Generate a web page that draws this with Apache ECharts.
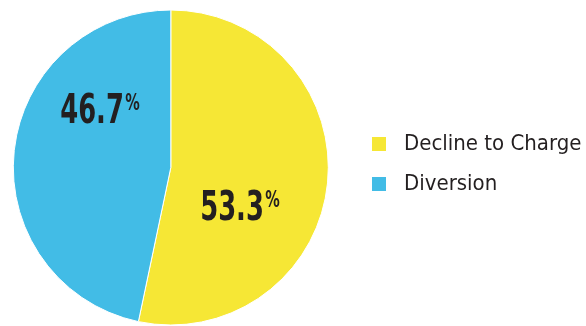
<!DOCTYPE html>
<html>
<head>
<meta charset="utf-8">
<style>
  html, body { margin: 0; padding: 0; background: #ffffff; }
  #chart { width: 586px; height: 326px; }
</style>
<script src="https://cdn.jsdelivr.net/npm/echarts@6/dist/echarts.min.js"></script>
</head>
<body>
<div id="chart"></div>
<script>
const categories = ['Decline to Charge', 'Diversion'];
const values = [53.3, 46.7];
const colors = ['#F6E735', '#42BCE6'];
const labelCenters = [[240, 210], [100, 113]];

const chart = echarts.init(document.getElementById('chart'), null, { renderer: 'canvas' });
const FONT = '"DejaVu Sans Condensed", "DejaVu Sans", sans-serif';

const labelGraphics = values.map((v, i) => ({
  type: 'text',
  x: labelCenters[i][0],
  y: labelCenters[i][1],
  scaleX: 0.7,
  scaleY: 1,
  silent: true,
  z: 10,
  style: {
    text: '{n|' + v.toFixed(1) + '}{p|%}',
    x: 0,
    y: 0,
    align: 'center',
    verticalAlign: 'middle',
    rich: {
      n: { fontFamily: FONT, fontWeight: 'bold', fontSize: 41, fill: '#231f20', lineHeight: 40, verticalAlign: 'bottom' },
      p: { fontFamily: FONT, fontWeight: 'bold', fontSize: 23, fill: '#231f20', lineHeight: 40, verticalAlign: 'top', padding: [0, 0, 14, 2] }
    }
  }
}));

const option = {
  animation: false,
  color: colors,
  legend: {
    orient: 'vertical',
    left: 365,
    top: 128,
    itemWidth: 16,
    itemHeight: 16,
    itemGap: 18,
    icon: 'rect',
    data: categories,
    textStyle: {
      fontFamily: FONT,
      fontSize: 22,
      color: '#231f20',
      padding: [0, 0, 0, 12]
    }
  },
  graphic: labelGraphics,
  series: [{
    type: 'pie',
    center: [170.8, 167.5],
    radius: [0, 157.5],
    startAngle: 90,
    clockwise: true,
    avoidLabelOverlap: false,
    itemStyle: { borderColor: '#ffffff', borderWidth: 1 },
    labelLine: { show: false },
    label: { show: false },
    emphasis: { disabled: true },
    data: categories.map((c, i) => ({ name: c, value: values[i] }))
  }]
};
chart.setOption(option);
</script>
</body>
</html>
